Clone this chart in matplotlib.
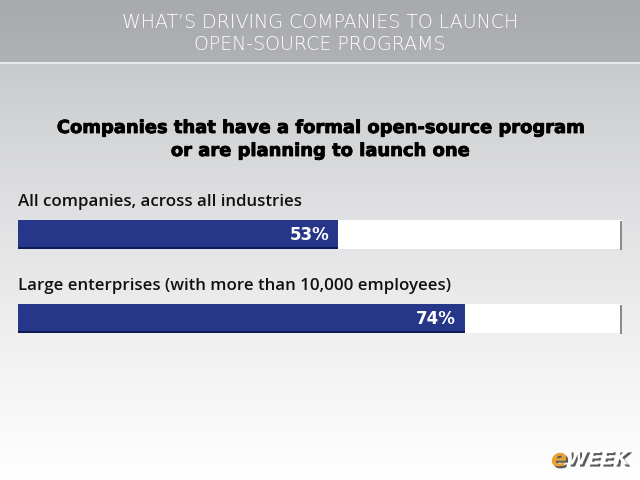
import numpy as np
import matplotlib.pyplot as plt
import matplotlib.patheffects as pe

header = ["WHAT\u2019S DRIVING COMPANIES TO LAUNCH", "OPEN-SOURCE PROGRAMS"]
title = ["Companies that have a formal open-source program", "or are planning to launch one"]
categories = ["All companies, across all industries",
              "Large enterprises (with more than 10,000 employees)"]
values = [53, 74]

W, H = 640, 480
fig = plt.figure(figsize=(6.4, 4.8), dpi=100)

# background: gray header band, then a gray-to-white gradient
bg = fig.add_axes([0, 0, 1, 1])
bg.set_xlim(0, W)
bg.set_ylim(H, 0)
bg.axis('off')
grad = np.linspace(0, 1, 256).reshape(-1, 1)
top = np.array([0.78, 0.785, 0.795])
bot = np.array([1.0, 1.0, 1.0])
img = top + (bot - top) * grad[..., None] ** 0.8
bg.imshow(img, extent=[0, W, H, 64], aspect='auto', zorder=0)
hgrad = np.linspace(0, 1, 64).reshape(-1, 1)
htop = np.array([0.66, 0.665, 0.68])
hbot = np.array([0.69, 0.695, 0.71])
himg = htop + (hbot - htop) * hgrad[..., None]
bg.imshow(himg, extent=[0, W, 62, 0], aspect='auto', zorder=0)
bg.axhline(63, color='#e4e5e8', linewidth=1.2, zorder=1)

for i, line in enumerate(header):
    bg.text(W / 2, 22 + i * 22, line, ha='center', va='center', color='white',
            fontsize=13.7, family='DejaVu Sans', fontweight='light')
for i, line in enumerate(title):
    bg.text(W / 2, 128 + i * 23, line, ha='center', va='center', color='black',
            fontsize=12.9, family='DejaVu Sans', fontweight='bold',
            path_effects=[pe.withStroke(linewidth=0.6, foreground='black')])

# bars
ax = fig.add_axes([18 / W, 0, 604 / W, 1])
ax.set_xlim(0, 100)
ax.set_ylim(H, 0)
ax.axis('off')
ypos = [234.5, 318.5]
for y, cat, v in zip(ypos, categories, values):
    ax.barh(y, 100, height=29, color='white', zorder=1)
    ax.barh(y + 1, 0.35, left=99.65, height=29, color='#8a8b8e', zorder=1)
    ax.barh(y, v, height=29, color='#26378a', zorder=2)
    ax.barh(y + 13.5, v, height=2, color='#0e1a55', zorder=3)
    ax.text(0, y - 32, cat, ha='left', va='center', fontsize=12.2,
            family='Open Sans', fontweight='semibold', color='#111111')
    ax.text(v - 1.5, y + 1, f"{v}%", ha='right', va='center', fontsize=12,
            family='DejaVu Sans', fontweight='bold', color='white')

# logo
shadow = [pe.withSimplePatchShadow(offset=(1.5, -1.5), shadow_rgbFace='#333333', alpha=0.8)]
bg.text(551, 459, "e", ha='left', va='center', fontsize=17, family='DejaVu Sans',
        fontweight='bold', style='italic', color='#e8a030', path_effects=shadow)
bg.text(566, 459, "WEEK", ha='left', va='center', fontsize=14, family='DejaVu Sans',
        fontweight='bold', style='italic', color='white', path_effects=shadow)

fig.savefig('out.png', dpi=100)
